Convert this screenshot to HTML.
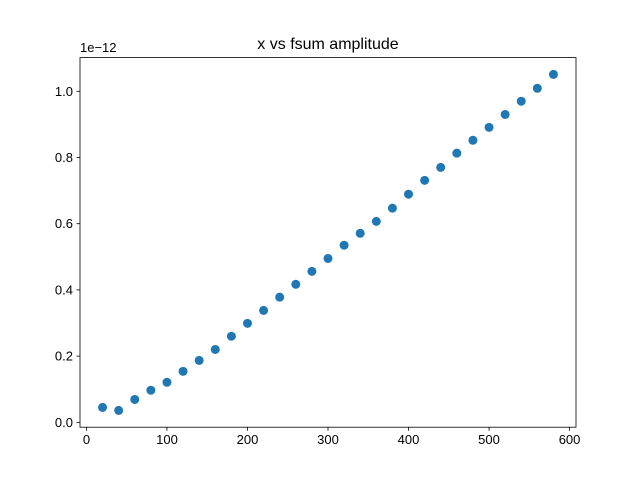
<!DOCTYPE html>
<html><head><meta charset="utf-8"><style>body{margin:0;background:#fff}svg{display:block;font-family:"Liberation Sans","DejaVu Sans",sans-serif}</style></head>
<body>
<svg id="chart" width="640" height="480">
<rect width="640" height="480" fill="#fff"/>
<text x="328" y="49" font-size="16" text-anchor="middle">x vs fsum amplitude</text>
<text x="80" y="52" font-size="13">1e−12</text>
<g id="marks"></g>
<rect x="80" y="57.6" width="496" height="369.6" fill="none" stroke="#000" stroke-width="0.8"/>
</svg>
<script>
const xValues=[20,40,60,80,100,120,140,160,180,200,220,240,260,280,300,320,340,360,380,400,420,440,460,480,500,520,540,560,580];
const yValues=[0.045,0.036,0.069,0.097,0.121,0.154,0.187,0.22,0.26,0.299,0.338,0.378,0.417,0.456,0.495,0.535,0.571,0.607,0.647,0.689,0.731,0.770,0.813,0.852,0.891,0.93,0.97,1.009,1.051];
const xTicks=[0,100,200,300,400,500,600];
const yTicks=[0.0,0.2,0.4,0.6,0.8,1.0];
const NS="http://www.w3.org/2000/svg";
const L=80,R=576,T=57.6,B=427.2;
const xmin=Math.min(...xValues),xmax=Math.max(...xValues),xm=(xmax-xmin)*0.05;
const ymin=Math.min(...yValues),ymax=Math.max(...yValues),ym=(ymax-ymin)*0.05;
const sx=v=>L+(v-(xmin-xm))/((xmax+xm)-(xmin-xm))*(R-L);
const sy=v=>B-(v-(ymin-ym))/((ymax+ym)-(ymin-ym))*(B-T);
const g=document.getElementById('marks');
function mk(t,a){const e=document.createElementNS(NS,t);for(const k in a)e.setAttribute(k,a[k]);g.appendChild(e);return e;}
xTicks.forEach(t=>{const x=sx(t);
const l=mk('line',{x1:x,x2:x,y1:B,y2:B+3.5,stroke:'#000','stroke-width':0.8});


const tx=mk('text',{x:x,y:B+17,'font-size':13,'text-anchor':'middle'});tx.textContent=t;

});
yTicks.forEach(t=>{const y=sy(t);
const l=mk('line',{x1:L-3.5,x2:L,y1:y,y2:y,stroke:'#000','stroke-width':0.8});


const tx=mk('text',{x:L-7,y:y+4.5,'font-size':13,'text-anchor':'end'});tx.textContent=t.toFixed(1);

});
xValues.forEach((x,i)=>{const c=mk('circle',{cx:sx(x),cy:sy(yValues[i]),r:4.5,fill:'#1f77b4'});

});
</script>
</body></html>
